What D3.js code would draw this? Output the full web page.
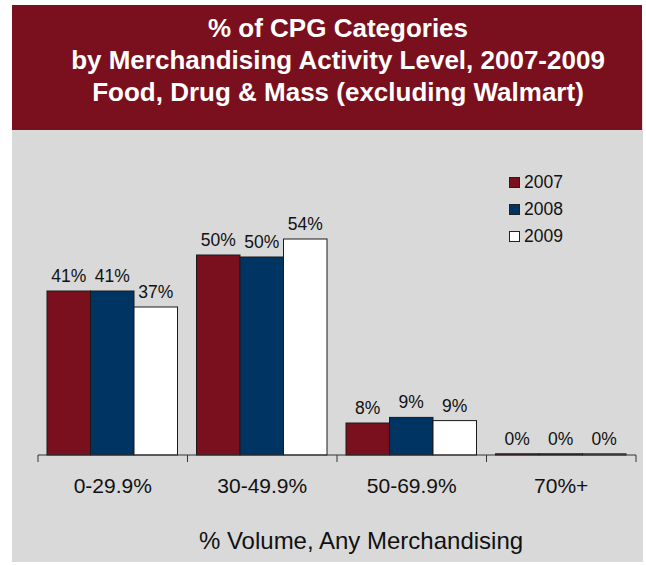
<!DOCTYPE html>
<html><head><meta charset="utf-8">
<script src="https://cdn.jsdelivr.net/npm/d3@7"></script>
<style>body{margin:0;background:#fff;}svg{display:block;font-family:"Liberation Sans",Arial,sans-serif;}</style>
</head><body><svg id="c" width="646" height="565"></svg>
<script>
const categories = ["0-29.9%", "30-49.9%", "50-69.9%", "70%+"];
const seriesNames = ["2007", "2008", "2009"];
const values2007 = [41, 50, 8, 0.3];
const values2008 = [41, 49.5, 9.4, 0.3];
const values2009 = [37, 54, 8.6, 0.3];
const labels2007 = ["41%", "50%", "8%", "0%"];
const labels2008 = ["41%", "50%", "9%", "0%"];
const labels2009 = ["37%", "54%", "9%", "0%"];
const titleLines = ["% of CPG Categories", "by Merchandising Activity Level, 2007-2009", "Food, Drug & Mass (excluding Walmart)"];
const xTitle = "% Volume, Any Merchandising";

const colors = ["#7a101d", "#003462", "#ffffff"];
const series = [values2007, values2008, values2009];
const labels = [labels2007, labels2008, labels2009];

const svg = d3.select("#c");
svg.append("rect").attr("x",12).attr("y",40).attr("width",631).attr("height",522).attr("fill","#d9d9d9");
svg.append("rect").attr("x",12).attr("y",5).attr("width",630).attr("height",125).attr("fill","#7a101d");
svg.selectAll("text.title").data(titleLines).join("text")
  .attr("x",338).attr("y",(d,i)=>37+i*32).attr("text-anchor","middle")
  .attr("fill","#fff").attr("font-weight","bold").attr("font-size",26).text(d=>d);

const x0 = d3.scaleBand().domain(categories).range([38,636]).paddingInner(0).paddingOuter(0);
const x1 = d3.scaleBand().domain(seriesNames).range([9, x0.bandwidth()-10]);
const y = d3.scaleLinear().domain([0,60]).range([455,215]);

const g = svg.append("g");
categories.forEach((c,ci)=>{
  seriesNames.forEach((s,si)=>{
    const v = series[si][ci];
    const bx = x0(c)+x1(s);
    g.append("rect").attr("x",bx).attr("y",y(v)).attr("width",x1.bandwidth()).attr("height",y(0)-y(v))
      .attr("fill",colors[si]).attr("stroke","#1a1a1a").attr("stroke-width",1);
    g.append("text").attr("x",bx+x1.bandwidth()/2).attr("y",y(v)-9).attr("text-anchor","middle")
      .attr("font-size",17.5).attr("fill","#111").text(labels[si][ci]);
  });
});

const axis = d3.axisBottom(x0).tickSize(0).tickFormat("");
const ag = svg.append("g").attr("transform","translate(0,455)").call(axis);
ag.select(".domain").attr("stroke","#333").attr("d","M38,0H636");
ag.selectAll(".tk").data(d3.range(categories.length+1)).join("line")
  .attr("x1",i=>i<categories.length?x0(categories[i]):636).attr("x2",i=>i<categories.length?x0(categories[i]):636)
  .attr("y1",0).attr("y2",7).attr("stroke","#333");
svg.selectAll("text.cat").data(categories).join("text")
  .attr("x",d=>x0(d)+x0.bandwidth()/2).attr("y",493).attr("text-anchor","middle")
  .attr("font-size",21).attr("fill","#111").text(d=>d);
svg.append("text").attr("x",361).attr("y",549).attr("text-anchor","middle").attr("font-size",24).attr("fill","#111").text(xTitle);

const lg = svg.append("g");
seriesNames.forEach((s,i)=>{
  lg.append("rect").attr("x",509.5).attr("y",177.5+i*27).attr("width",10).attr("height",10)
    .attr("fill",colors[i]).attr("stroke","#222").attr("stroke-width",1);
  lg.append("text").attr("x",524).attr("y",188+i*27).attr("font-size",17.5).attr("fill","#111").text(s);
});
</script></body></html>
